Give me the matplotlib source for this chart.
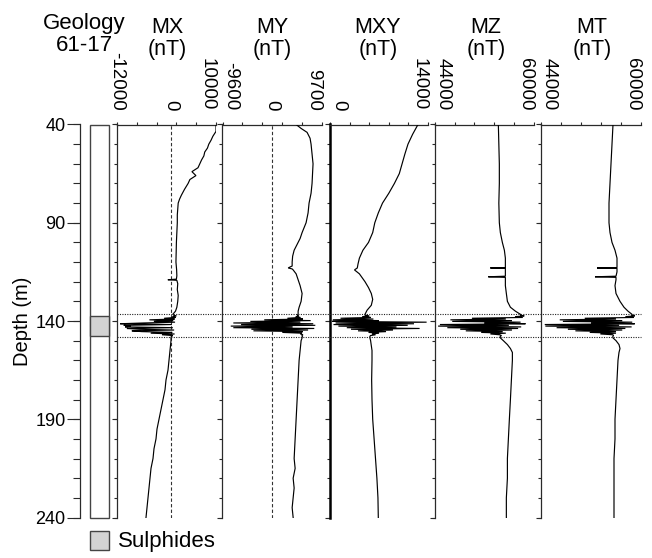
import matplotlib
matplotlib.use('Agg')
import matplotlib.pyplot as plt
from matplotlib.lines import Line2D
from matplotlib.patches import Rectangle
import matplotlib.transforms as mtransforms

plt.rcParams['font.family'] = ['Liberation Sans', 'DejaVu Sans']

# ---------------- data ----------------
zone_depth = [137.0, 137.4, 137.8, 138.2, 138.6, 139.0, 139.4, 139.8, 140.2, 140.6,
              141.0, 141.4, 141.8, 142.2, 142.6, 143.0, 143.4, 143.8, 144.2, 144.6,
              145.0, 145.4, 145.8, 146.2, 146.6, 147.0, 147.4, 147.8, 148.2]

mx_up_depth = [40, 43.5, 46, 48, 50, 52, 54, 56, 58, 60, 62, 64, 66, 68, 70, 73, 76, 78, 80,
               83, 86, 90, 95, 100, 105, 110, 114, 117, 118.7, 119, 119.3, 121, 124, 127,
               130, 133, 135, 136.6]
mx_up_val = [10000, 10000, 9300, 8900, 8400, 8100, 7500, 7300, 6800, 6400, 6000, 4650, 5540,
             4200, 3800, 3000, 2300, 1900, 1600, 1500, 1400, 1400, 1300, 1200, 1150, 1100,
             1250, 1300, 1200, -700, 1300, 1500, 1400, 1600, 1500, 1300, 1000, 400]
mx_zone_val = [600, 1200, 300, 1000, -1500, 800, -4800, 500, -3800, 900, -6000, -11300, 200,
               -10500, -9000, -10200, 400, -9800, -7000, 700, -8700, -6500, 300, -4500, 800,
               -2000, 400, 100, 0]
mx_low_depth = [148.6, 150, 155, 160, 165, 170, 175, 180, 185, 190, 195, 200, 205, 210, 215,
                220, 225, 230, 235, 240]
mx_low_val = [0, 0, -222, -444, -667, -1111, -1333, -1778, -2222, -2667, -3111, -3333, -3778,
              -4000, -4444, -4667, -4889, -5111, -5333, -5556]

my_up_depth = [40, 42, 44, 47, 50, 55, 60, 65, 70, 75, 80, 85, 90, 95, 98, 101, 104, 107, 110,
               112, 113, 113.5, 114, 116, 119, 122, 126, 130, 133, 135, 136.6]
my_up_val = [4682, 5647, 6805, 7384, 7577, 7770, 7963, 7866, 7770, 7577, 7191, 6998, 6612,
             5840, 5454, 4875, 4296, 4006, 3910, 3910, 3138, 3910, 4103, 4682, 5068, 5454,
             5840, 5647, 5261, 5068, 5068]
my_zone_val = [4900, 5200, 4600, 5500, 3000, 6000, -1500, 7500, -4200, 5500, -7500, 8000,
               -6000, 8400, -8000, 4000, -7500, 8200, -4000, 7000, -3600, 6000, 2000, 5800,
               5500, 6000, 5800, 5900, 5840]
my_low_depth = [148.6, 150, 155, 160, 170, 180, 190, 200, 210, 215, 220, 225, 230, 235, 240]
my_low_val = [5840, 5647, 5454, 5261, 5068, 4875, 4682, 4489, 4296, 4489, 4103, 4296, 4103,
              3910, 4103]

mxy_up_depth = [40, 45, 50, 55, 60, 65, 70, 75, 80, 85, 90, 95, 100, 104, 108, 111, 113, 114,
                116, 118, 120, 123, 126, 129, 132, 134.5, 136.6]
mxy_up_val = [12570, 11800, 11140, 10700, 10300, 9900, 9200, 8400, 7500, 6900, 6400, 6100,
              5500, 4700, 4200, 4000, 3900, 3500, 4200, 4600, 5000, 5500, 5900, 6100, 5900,
              5300, 5000]
mxy_zone_val = [5000, 5600, 4600, 5800, 1500, 6200, 400, 7000, 300, 13800, 800, 12000, 500,
                11100, 1200, 9500, 2400, 12800, 3000, 9000, 4000, 8000, 5500, 7000, 6000,
                6500, 5800, 5700, 5700]
mxy_low_depth = [148.6, 150, 155, 160, 170, 180, 190, 200, 210, 220, 230, 240]
mxy_low_val = [5700, 5800, 6000, 6000, 5950, 6000, 6100, 6300, 6500, 6700, 6850, 6900]

mz_up_depth = [40, 50, 60, 70, 80, 90, 95, 100, 104, 108, 111, 112.8, 113, 113.2, 115, 117.2,
               117.5, 117.8, 119, 122, 126, 130, 133, 135, 136.6]
mz_up_val = [54290, 54370, 54450, 54450, 54370, 54450, 54615, 54940, 55270, 55430, 55430,
             55430, 52980, 55430, 55430, 55430, 52650, 55430, 55430, 55430, 55590, 55760,
             56250, 57060, 57880]
mz_zone_val = [57900, 58500, 57000, 58200, 50000, 55500, 46500, 56500, 46800, 57900, 52000,
               58700, 44800, 56000, 44500, 58000, 46000, 57500, 48100, 56500, 49000, 55000,
               51500, 55500, 53000, 54500, 54800, 54600, 54600]
mz_low_depth = [148.6, 150, 152, 154, 156, 160, 170, 180, 190, 200, 210, 220, 230, 240]
mz_low_val = [54615, 55100, 55760, 56250, 56570, 56570, 56410, 56250, 56080, 55920, 55760,
              55760, 55590, 55590]

mt_up_depth = [40, 50, 60, 70, 80, 90, 95, 100, 104, 108, 111, 112.8, 113, 113.2, 115, 117.2,
               117.5, 117.8, 119, 122, 126, 130, 133, 135, 136.6]
mt_up_val = [55520, 55360, 55200, 55040, 54880, 54880, 55040, 55360, 55840, 56160, 56160,
             56160, 52960, 56160, 56160, 56000, 52640, 56000, 56000, 55840, 56000, 56640,
             57280, 57920, 58560]
mt_zone_val = [58500, 59000, 57500, 58800, 51000, 56000, 47000, 57000, 47500, 58600, 52000,
               59000, 44600, 56500, 44700, 58500, 46500, 57500, 48300, 57000, 49500, 56000,
               51800, 56000, 53500, 55500, 55600, 55500, 55500]
mt_low_depth = [148.6, 150, 152, 154, 156, 160, 170, 180, 190, 200, 210, 220, 230, 240]
mt_low_val = [55520, 56000, 56480, 56640, 56480, 56320, 56160, 56000, 55840, 55840, 55680,
              55680, 55680, 55680]

panel_names = ['MX', 'MY', 'MXY', 'MZ', 'MT']
panel_ranges = [(-12000, 10000), (-9600, 9700), (0, 14000), (44000, 60000), (44000, 60000)]
panel_labels = [[-12000, 0, 10000], [-9600, 0, 9700], [0, 14000], [44000, 60000],
                [44000, 60000]]
zero_lines = [True, True, False, False, False]

depth_major = [40, 90, 140, 190, 240]
depth_minor = list(range(40, 241, 10))
sulphide_interval = (137.5, 147.6)
zone_bounds = [136.6, 148.3]
geology_title = 'Geology\n61-17'
legend_label = 'Sulphides'

# ---------------- layout ----------------
W, H = 652, 558
fig = plt.figure(figsize=(W / 100, H / 100), dpi=100)


def fx(px):
    return px / W


def fy(py):
    return 1 - py / H


top_px, bot_px = 124.5, 517.5
panel_px = [(117, 216), (222.5, 322), (330, 428), (435, 533.5), (541, 641)]
title_cx = [167, 272, 378, 486, 592]
SP = '#2a2a2a'

series = [
    (mx_up_depth + zone_depth + mx_low_depth, mx_up_val + mx_zone_val + mx_low_val),
    (my_up_depth + zone_depth + my_low_depth, my_up_val + my_zone_val + my_low_val),
    (mxy_up_depth + zone_depth + mxy_low_depth, mxy_up_val + mxy_zone_val + mxy_low_val),
    (mz_up_depth + zone_depth + mz_low_depth, mz_up_val + mz_zone_val + mz_low_val),
    (mt_up_depth + zone_depth + mt_low_depth, mt_up_val + mt_zone_val + mt_low_val),
]

axes = []
for i, ((x0, x1), name, rng, labs, zl, (dep, val)) in enumerate(
        zip(panel_px, panel_names, panel_ranges, panel_labels, zero_lines, series)):
    ax = fig.add_axes([fx(x0), fy(bot_px), (x1 - x0) / W, (bot_px - top_px) / H])
    ax.set_xlim(*rng)
    ax.set_ylim(240, 40)
    for s in ['right', 'bottom']:
        ax.spines[s].set_visible(False)
    for s in ['left', 'top']:
        ax.spines[s].set_color(SP)
        ax.spines[s].set_linewidth(0.9)
    if name == 'MXY':
        ax.spines['left'].set_linewidth(1.8)
        ax.spines['left'].set_color('black')
    ax.patch.set_alpha(0)
    if zl:
        ax.axvline(0, color='#333333', lw=0.8, ls=(0, (3, 2)), zorder=1)
    ax.plot(val, dep, color='black', lw=0.85, zorder=3, solid_joinstyle='miter')
    # x ticks on top
    ax.xaxis.tick_top()
    ax.xaxis.remove_overlapping_locs = False
    step = (rng[1] - rng[0]) / 5
    ax.set_xticks([rng[0] + k * step for k in range(6)], minor=True)
    ax.set_xticks(labs)
    ax.set_xticklabels([str(v) for v in labs], rotation=-90, fontsize=13.5)
    for v, t in zip(labs, ax.get_xticklabels()):
        if v == rng[0] and name != 'MX':
            t.set_horizontalalignment('left')
        elif v == rng[1]:
            t.set_horizontalalignment('right')
        else:
            t.set_horizontalalignment('center')
    ax.tick_params(axis='x', which='major', length=0, pad=10)
    ax.tick_params(axis='x', which='minor', length=2.5, width=0.8, color=SP, direction='out')
    # y ticks on left
    ax.set_yticks(depth_major)
    ax.set_yticks(depth_minor, minor=True)
    ax.yaxis.remove_overlapping_locs = False
    ax.set_yticklabels([])
    ax.tick_params(axis='y', which='major', length=3.5, width=0.8, color=SP, direction='out')
    ax.tick_params(axis='y', which='minor', length=2.5, width=0.8, color=SP, direction='out')
    fig.text(fx(title_cx[i]), fy(55), name + '\n(nT)', ha='center', va='baseline',
             fontsize=15.5, linespacing=1.05)
    axes.append(ax)

# geology column with depth axis
gx0, gx1 = 80, 113
gax = fig.add_axes([fx(gx0), fy(bot_px), (gx1 - gx0) / W, (bot_px - top_px) / H])
gax.set_xlim(0, 1)
gax.set_ylim(240, 40)
for s in ['right', 'bottom', 'top']:
    gax.spines[s].set_visible(False)
gax.spines['left'].set_color(SP)
gax.spines['left'].set_linewidth(0.9)
gax.patch.set_alpha(0)
gax.set_xticks([])
gax.set_yticks(depth_major)
gax.set_yticks(depth_minor, minor=True)
gax.yaxis.remove_overlapping_locs = False
gax.set_yticklabels([str(d) for d in depth_major], fontsize=13)
gax.tick_params(axis='y', which='major', length=9.5, width=0.8, color=SP, pad=1)
gax.tick_params(axis='y', which='minor', length=5, width=0.8, color=SP)
gax.set_ylabel('Depth (m)', fontsize=14.5, labelpad=2)
rx0 = (89.5 - gx0) / (gx1 - gx0)
rw = (109 - 89.5) / (gx1 - gx0)
gax.add_patch(Rectangle((rx0, 40), rw, 200, facecolor='white', edgecolor='#444444', lw=1,
                        clip_on=False))
gax.add_patch(Rectangle((rx0, sulphide_interval[0]), rw,
                        sulphide_interval[1] - sulphide_interval[0],
                        facecolor='#d3d3d3', edgecolor='#444444', lw=1, clip_on=False))

fig.text(fx(84), fy(51), geology_title, ha='center', va='baseline', fontsize=16,
         linespacing=1.05)

# dotted boundary lines across panels
trans = mtransforms.blended_transform_factory(fig.transFigure, axes[0].transData)
for b in zone_bounds:
    fig.add_artist(Line2D([fx(117), fx(641)], [b, b], transform=trans, color='#222222',
                          lw=0.8, ls=(0, (1, 1.2))))

# legend
fig.add_artist(Rectangle((fx(89.5), fy(550)), (109 - 89.5) / W, 19 / H,
                         transform=fig.transFigure, facecolor='#d3d3d3',
                         edgecolor='#444444', lw=1))
fig.text(fx(118), fy(541), legend_label, ha='left', va='center', fontsize=16)

fig.savefig('out.png', dpi=100)
